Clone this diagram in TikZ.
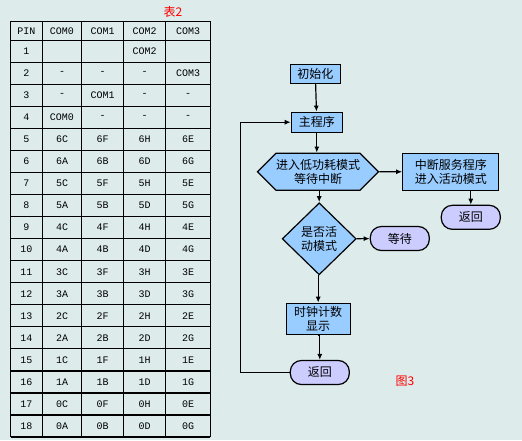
\documentclass[tikz,border=0pt]{standalone}
\usepackage{fontspec}
\newfontfamily\cjk{Noto Sans CJK SC}
\newfontfamily\tabfont{Liberation Mono}
\usetikzlibrary{arrows.meta,shapes.geometric,shapes.symbols,positioning}
\definecolor{bgcol}{HTML}{DDEBEB}
\definecolor{boxblue}{HTML}{99CCFF}
\definecolor{termlav}{HTML}{CCCCFF}
\tikzset{
  cell/.style={font=\tabfont\fontsize{10}{12}\selectfont, inner sep=0pt},
  grid/.style={line width=1.2pt},
  procbox/.style={draw, line width=1.2pt, fill=boxblue, font=\cjk\fontsize{12}{14}\selectfont, align=center, inner sep=0pt},
  termbox/.style={procbox, fill=termlav, rounded corners=11pt},
  hexbox/.style={procbox, signal, signal to=west and east, signal pointer angle=90},
  decbox/.style={procbox, diamond},
  arr/.style={line width=1.2pt, -{Latex[length=6pt,width=5pt]}},
  caption/.style={font=\cjk\fontsize{12}{14}\selectfont, text=red, inner sep=0pt}
}

\begin{document}
\begin{tikzpicture}[x=1pt,y=-1pt]
\useasboundingbox (0,0) rectangle (522,440);
\fill[bgcol] (0,0) rectangle (522,440);

% table 2
\node[caption] (tab2) at (173,12) {表2};
\foreach \yy in {21.3,40.3,62.34,84.38,106.42,128.46,150.5,172.54,194.58,216.62,238.66,260.7,282.74,304.78,326.82,348.86,370.9,392.94,414.98,437}
  \draw[grid] (10.7,\yy) -- (210.3,\yy);
\foreach \xx in {10.7,42.3,81.7,123.7,165.7,210.3}
  \draw[grid] (\xx,21.3) -- (\xx,437);

\node[cell] (h0) at (26.5,30.8) {PIN};
\node[cell] (h1) at (62,30.8) {COM0};
\node[cell] (h2) at (102.7,30.8) {COM1};
\node[cell] (h3) at (144.7,30.8) {COM2};
\node[cell] (h4) at (188,30.8) {COM3};

\foreach \r/\a/\b/\c/\d in {1/{}/{}/COM2/{}, 2/-/-/-/COM3, 3/-/COM1/-/-, 4/COM0/-/-/-,
    5/6C/6F/6H/6E, 6/6A/6B/6D/6G, 7/5C/5F/5H/5E, 8/5A/5B/5D/5G,
    9/4C/4F/4H/4E, 10/4A/4B/4D/4G, 11/3C/3F/3H/3E, 12/3A/3B/3D/3G,
    13/2C/2F/2H/2E, 14/2A/2B/2D/2G, 15/1C/1F/1H/1E, 16/1A/1B/1D/1G,
    17/0C/0F/0H/0E, 18/0A/0B/0D/0G}{
  \pgfmathsetmacro\yy{40.3+22.04*(\r-0.5)}
  \node[cell] (p\r) at (26.5,\yy) {\r};
  \node[cell] (a\r) at (62,\yy) {\a};
  \node[cell] (b\r) at (102.7,\yy) {\b};
  \node[cell] (c\r) at (144.7,\yy) {\c};
  \node[cell] (d\r) at (188,\yy) {\d};
}

% flow chart
\node[procbox, minimum width=50pt, minimum height=19pt] (init) at (315.3,73.8) {初始化};
\node[procbox, minimum width=51pt, minimum height=20pt] (main) at (316.8,122.2) {主程序};
\node[hexbox, minimum width=118pt, minimum height=37pt] (sleep) at (318,171.7) {进入低功耗模式\\等待中断};
\node[procbox, minimum width=96pt, minimum height=37pt] (isr) at (450.8,171.8) {中断服务程序\\进入活动模式};
\node[termbox, minimum width=59pt, minimum height=24pt] (ret2) at (470.8,217.3) {返回};
\node[decbox, minimum width=74pt, minimum height=72pt] (active) at (319.2,238.8) {是否活\\动模式};
\node[termbox, minimum width=59pt, minimum height=24pt] (wait) at (399.8,238.5) {等待};
\node[procbox, minimum width=64pt, minimum height=31pt] (clock) at (318.2,318.8) {时钟计数\\显示};
\node[termbox, minimum width=59pt, minimum height=24pt] (ret1) at (319.8,372.5) {返回};
\node[caption] (fig3) at (405,381) {图3};
\coordinate (lp) at (240.7,121);

\draw[arr] (init) -- (main);
\draw[arr] (main.south) -- (main.south |- sleep.north);
\draw[arr] (sleep) -- (isr);
\draw[arr] (isr.south -| ret2.north) -- (ret2.north);
\draw[arr] (sleep.south -| active.north) -- (active.north);
\draw[arr] (active) -- (wait);
\draw[arr] (active.south) -- (active.south -| clock.north) -- (clock.north);
\draw[arr] (clock.south) -- (clock.south -| ret1.north) -- (ret1.north);
\draw[arr] (ret1.west) -- (ret1.west -| lp) |- (main.west);
\end{tikzpicture}
\end{document}
